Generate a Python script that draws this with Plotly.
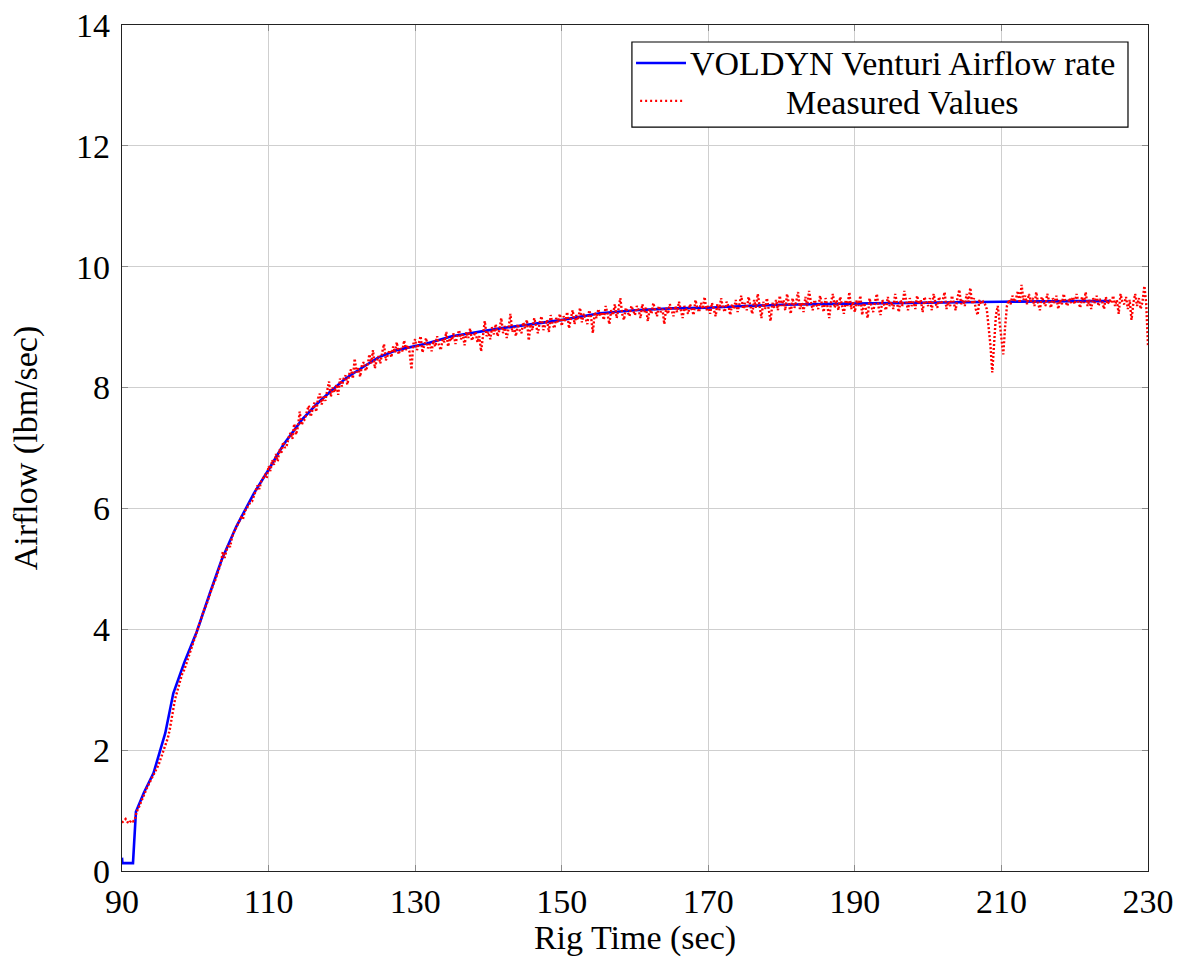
import plotly.graph_objects as go

# VOLDYN venturi airflow rate (model), breakpoints in rig time
venturi_time = [90.0, 90.05, 91.5, 91.9, 93.0, 94.3, 95.9, 97.0, 98.5, 100.2,
                102.0, 103.6, 105.6, 108.0, 110.0, 112.0, 114.5, 116.5, 118.4,
                120.5, 122.9, 125.0, 127.5, 131.6, 135.0, 141.6, 146.0, 150.1,
                155.2, 160.0, 165.0, 169.8, 175.0, 180.0, 189.3, 200.0, 210.0,
                220.0, 224.8]
venturi_flow = [0.22, 0.13, 0.13, 0.98, 1.30, 1.62, 2.28, 2.94, 3.45, 3.96,
                4.60, 5.15, 5.70, 6.25, 6.64, 7.05, 7.46, 7.72, 7.93,
                8.15, 8.34, 8.50, 8.62, 8.73, 8.85, 8.98, 9.05, 9.12,
                9.23, 9.28, 9.31, 9.32, 9.35, 9.37, 9.39, 9.41, 9.42,
                9.43, 9.43]

# Measured airflow, logged every 0.25 s from 90 s to 230 s (one row = 5 s)
measured_start = 90.0
measured_step = 0.25
measured_flow = [
    0.80, 0.83, 0.86, 0.81, 0.79, 0.84, 0.82, 0.85, 0.98, 1.04, 1.12, 1.18, 1.27, 1.33, 1.40, 1.45, 1.52, 1.58, 1.63, 1.70,
    1.76, 1.85, 1.93, 2.00, 2.10, 2.20, 2.33, 2.48, 2.68, 2.85, 2.97, 3.08, 3.18, 3.28, 3.33, 3.42, 3.52, 3.60, 3.70, 3.78,
    3.90, 3.98, 4.08, 4.16, 4.26, 4.34, 4.40, 4.50, 4.58, 4.68, 4.76, 4.82, 4.92, 5.00, 5.10, 5.28, 5.18, 5.30, 5.40, 5.36,
    5.52, 5.60, 5.66, 5.72, 5.78, 5.85, 5.82, 5.95, 6.00, 6.05, 6.10, 6.12, 6.22, 6.28, 6.38, 6.32, 6.45, 6.50, 6.55, 6.50,
    6.70, 6.62, 6.80, 6.72, 6.90, 6.78, 6.98, 6.92, 7.10, 7.00, 7.05, 7.18, 7.25, 7.15, 7.40, 7.22, 7.35, 7.60, 7.38, 7.45,
    7.48, 7.62, 7.70, 7.52, 7.65, 7.75, 7.60, 7.82, 7.90, 7.72, 7.85, 7.78, 7.95, 8.10, 7.85, 8.00, 7.92, 8.05, 7.88, 8.15,
    8.02, 8.15, 8.20, 8.05, 8.22, 8.30, 8.15, 8.48, 8.25, 8.32, 8.18, 8.38, 8.42, 8.28, 8.35, 8.55, 8.40, 8.62, 8.32, 8.45,
    8.52, 8.40, 8.58, 8.72, 8.45, 8.55, 8.62, 8.50, 8.68, 8.58, 8.75, 8.55, 8.65, 8.60, 8.78, 8.62, 8.70, 8.58, 8.30, 8.72,
    8.80, 8.62, 8.75, 8.85, 8.58, 8.70, 8.82, 8.65, 8.72, 8.60, 8.78, 8.68, 8.85, 8.70, 8.62, 8.80, 8.75, 8.92, 8.68, 8.82,
    8.78, 8.90, 8.72, 8.85, 8.95, 8.80, 8.88, 8.70, 8.92, 8.82, 8.98, 8.78, 8.86, 8.92, 8.75, 8.85, 8.60, 8.90, 9.10, 8.85,
    8.92, 8.80, 9.00, 8.88, 9.05, 8.85, 8.95, 9.15, 8.90, 9.02, 8.82, 8.98, 9.22, 8.92, 9.00, 8.85, 9.05, 8.95, 8.90, 9.08,
    8.98, 9.12, 8.78, 9.05, 8.95, 9.15, 9.00, 8.90, 9.08, 9.18, 8.95, 9.02, 9.12, 8.92, 9.20, 9.05, 8.98, 9.15, 9.08, 9.22,
    9.02, 9.18, 9.10, 9.25, 8.98, 9.15, 9.28, 9.05, 9.20, 9.12, 9.32, 9.08, 9.22, 9.15, 9.05, 9.28, 9.18, 8.90, 9.25, 9.15,
    9.30, 9.18, 9.25, 9.12, 9.35, 9.22, 9.05, 9.28, 9.20, 9.38, 9.15, 9.30, 9.48, 9.22, 9.12, 9.32, 9.25, 9.18, 9.35, 9.28,
    9.20, 9.35, 9.28, 9.15, 9.38, 9.25, 9.32, 9.10, 9.30, 9.22, 9.40, 9.28, 9.18, 9.35, 9.25, 9.30, 9.05, 9.32, 9.22, 9.38,
    9.28, 9.18, 9.35, 9.25, 9.42, 9.30, 9.15, 9.35, 9.28, 9.22, 9.38, 9.30, 9.20, 9.45, 9.32, 9.25, 9.40, 9.30, 9.50, 9.28,
    9.35, 9.22, 9.40, 9.30, 9.18, 9.38, 9.28, 9.48, 9.32, 9.25, 9.42, 9.35, 9.20, 9.38, 9.30, 9.45, 9.25, 9.38, 9.52, 9.30,
    9.40, 9.28, 9.50, 9.35, 9.22, 9.45, 9.32, 9.55, 9.38, 9.15, 9.42, 9.30, 9.48, 9.25, 9.10, 9.40, 9.32, 9.45, 9.28, 9.52,
    9.35, 9.45, 9.28, 9.55, 9.38, 9.22, 9.48, 9.32, 9.42, 9.58, 9.30, 9.40, 9.25, 9.50, 9.35, 9.60, 9.42, 9.28, 9.45, 9.38,
    9.30, 9.52, 9.40, 9.25, 9.48, 9.35, 9.15, 9.42, 9.55, 9.32, 9.45, 9.28, 9.50, 9.38, 9.22, 9.45, 9.35, 9.58, 9.30, 9.42,
    9.25, 9.45, 9.35, 9.52, 9.20, 9.40, 9.30, 9.15, 9.48, 9.35, 9.25, 9.42, 9.55, 9.32, 9.20, 9.45, 9.38, 9.28, 9.50, 9.35,
    9.42, 9.30, 9.55, 9.38, 9.25, 9.45, 9.35, 9.60, 9.40, 9.28, 9.48, 9.35, 9.42, 9.30, 9.52, 9.38, 9.45, 9.25, 9.50, 9.40,
    9.35, 9.48, 9.28, 9.55, 9.40, 9.32, 9.50, 9.38, 9.45, 9.58, 9.30, 9.42, 9.35, 9.52, 9.40, 9.28, 9.48, 9.62, 9.38, 9.45,
    9.35, 9.55, 9.42, 9.65, 9.38, 9.48, 9.30, 9.20, 9.45, 9.38, 9.42, 9.38, 9.30, 9.05, 8.70, 8.25, 8.80, 9.20, 9.35, 9.10,
    8.85, 8.55, 9.00, 9.35, 9.45, 9.38, 9.52, 9.42, 9.48, 9.60, 9.40, 9.70, 9.45, 9.52, 9.38, 9.55, 9.42, 9.48, 9.35, 9.58,
    9.40, 9.28, 9.50, 9.42, 9.35, 9.55, 9.45, 9.32, 9.48, 9.40, 9.52, 9.30, 9.45, 9.38, 9.55, 9.42, 9.35, 9.48, 9.40, 9.50,
    9.38, 9.55, 9.42, 9.32, 9.50, 9.40, 9.58, 9.35, 9.45, 9.30, 9.48, 9.40, 9.52, 9.35, 9.45, 9.42, 9.30, 9.50, 9.38, 9.45,
    9.40, 9.52, 9.35, 9.45, 9.22, 9.55, 9.42, 9.38, 9.50, 9.30, 9.45, 9.12, 9.40, 9.55, 9.35, 9.48, 9.30, 9.42, 9.68, 9.40,
    8.70,
]
measured_time = [measured_start + i * measured_step for i in range(len(measured_flow))]

x_ticks = [90, 110, 130, 150, 170, 190, 210, 230]
y_ticks = [0, 2, 4, 6, 8, 10, 12, 14]

series_names = ["VOLDYN Venturi Airflow rate", "Measured Values"]
blue = "rgb(0,0,255)"
red = "rgb(255,0,0)"
FONT = "Liberation Serif"
FSIZE = 34

fig = go.Figure()
# model curve first, measured samples drawn over it
fig.add_trace(go.Scatter(
    x=venturi_time, y=venturi_flow, mode="lines", name=series_names[0],
    line=dict(color=blue, width=2.6), showlegend=False,
))
fig.add_trace(go.Scatter(
    x=measured_time, y=measured_flow, mode="lines", name=series_names[1],
    line=dict(color=red, width=2.4, dash="2px,2px"), showlegend=False,
))

axis_common = dict(
    showgrid=True, gridcolor="#cfcfcf", gridwidth=1,
    showline=True, linecolor="#222222", linewidth=1.4, mirror="allticks",
    ticks="inside", ticklen=6, tickcolor="#8a8a8a", tickwidth=1.2,
    zeroline=False, automargin=False,
    tickfont=dict(family=FONT, size=FSIZE, color="black"),
)

fig.update_xaxes(range=[90, 230], tickvals=x_ticks, ticktext=[str(v) for v in x_ticks],
                 title=dict(text="Rig Time (sec)", font=dict(family=FONT, size=FSIZE, color="black"),
                            standoff=8),
                 **axis_common)
fig.update_yaxes(range=[0, 14], tickvals=y_ticks, ticktext=[str(v) for v in y_ticks],
                 ticklabelstandoff=4,
                 title=dict(text="Airflow (lbm/sec)", font=dict(family=FONT, size=FSIZE, color="black"),
                            standoff=28),
                 **axis_common)

# Legend box drawn in paper coordinates
legend_shapes = [
    dict(type="rect", xref="paper", yref="paper", x0=0.497, x1=0.9805, y0=0.8794, y1=0.9799,
         line=dict(color="black", width=1.2), fillcolor="white", layer="above"),
    dict(type="line", xref="paper", yref="paper", x0=0.501, x1=0.5497, y0=0.955, y1=0.955,
         line=dict(color=blue, width=2.6), layer="above"),
    dict(type="line", xref="paper", yref="paper", x0=0.505, x1=0.5468, y0=0.9102, y1=0.9102,
         line=dict(color=red, width=2.2, dash="2px,3px"), layer="above"),
]
legend_labels = [
    dict(text=series_names[0], xref="paper", yref="paper", x=0.7612, y=0.9545,
         showarrow=False, xanchor="center", yanchor="middle",
         font=dict(family=FONT, size=FSIZE, color="black")),
    dict(text=series_names[1], xref="paper", yref="paper", x=0.7612, y=0.9085,
         showarrow=False, xanchor="center", yanchor="middle",
         font=dict(family=FONT, size=FSIZE, color="black")),
]

fig.update_layout(
    width=1178, height=957,
    margin=dict(l=122, r=30, t=25, b=86),
    paper_bgcolor="white", plot_bgcolor="white",
    shapes=legend_shapes, annotations=legend_labels,
    showlegend=False,
)

fig.write_html("out.html")
